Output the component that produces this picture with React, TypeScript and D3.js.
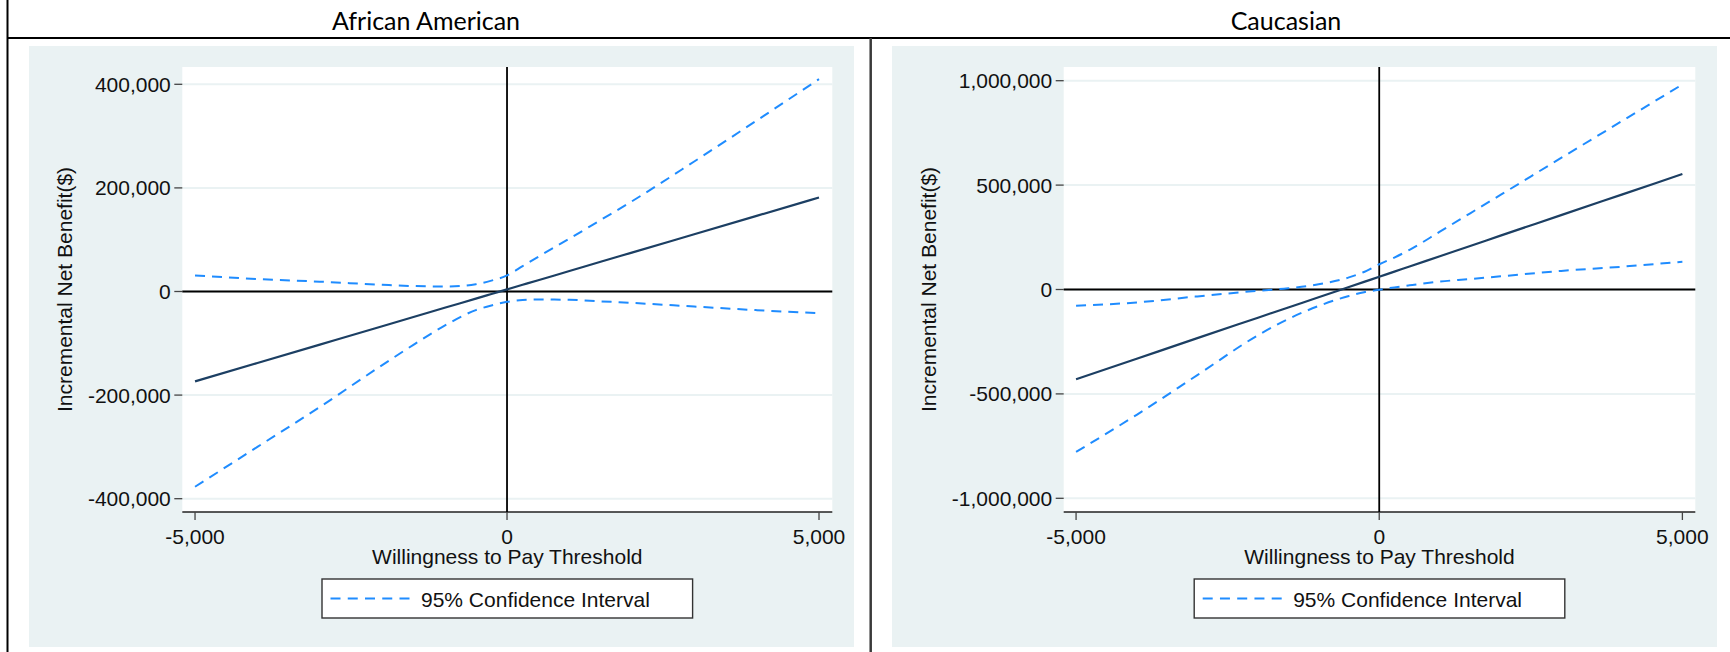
import React from "react";
import * as d3 from "d3";

// Willingness-to-pay thresholds at which the INB curves were evaluated
const wtp = [-5000, -4000, -3000, -2000, -1500, -1000, -500, -250, 0, 250, 500, 1000, 1500, 2000, 3000, 4000, 5000];

// African American: incremental net benefit and 95% CI bounds ($)
const aaPoint = [-173500, -138000, -102500, -67000, -49300, -31500, -13800, -4900, 4000, 12900, 21800, 39500, 57300, 75000, 110500, 146000, 181500];
const aaUpper = [31000, 24000, 19000, 13000, 10500, 9500, 14000, 21000, 31000, 49000, 67000, 102000, 138000, 174000, 251000, 330000, 410000];
const aaLower = [-377000, -300000, -223000, -142000, -103000, -66000, -36000, -27000, -20000, -16500, -15500, -16000, -19000, -22000, -29000, -36000, -42000];

// Caucasian: incremental net benefit and 95% CI bounds ($)
const caPoint = [-430000, -331500, -233000, -135000, -86000, -37000, 12000, 36500, 61000, 85600, 110000, 159500, 208500, 258000, 356000, 454500, 553000];
const caUpper = [-78000, -62000, -33000, -6000, 6000, 25000, 58000, 84000, 121000, 153000, 190000, 277000, 365000, 453000, 630000, 806000, 982000];
const caLower = [-778000, -600000, -410000, -219000, -141000, -79000, -31000, -13000, -1000, 10000, 20000, 38000, 50000, 63000, 89000, 109000, 133000];

// Axis ticks
const xTicks = [-5000, 0, 5000];
const aaYTicks = [-400000, -200000, 0, 200000, 400000];
const caYTicks = [-1000000, -500000, 0, 500000, 1000000];

const panelTitles = ["African American", "Caucasian"];
const xTitle = "Willingness to Pay Threshold";
const yTitle = "Incremental Net Benefit($)";
const legendLabel = "95% Confidence Interval";

const W = 1730;
const H = 652;
const BG = "#eaf2f3";
const NAVY = "#1c3f63";
const BLUE = "#1f8cff";
const AXIS_FONT = "'Liberation Sans', Arial, sans-serif";
const fmt = d3.formatLocale({ decimal: ".", thousands: ",", grouping: [3], currency: ["$", ""], minus: "-" }).format(",");

type PanelProps = {
  title: string;
  titleX: number;
  grayX0: number;
  grayX1: number;
  plotX0: number;
  plotX1: number;
  yTitleX: number;
  yDomain: [number, number];
  yTicks: number[];
  point: number[];
  upper: number[];
  lower: number[];
};

const grayY0 = 46;
const grayY1 = 647;
const plotY0 = 67;
const plotY1 = 512;

function Panel(p: PanelProps) {
  const x = d3.scaleLinear().domain([-5204, 5213]).range([p.plotX0, p.plotX1]);
  const y = d3.scaleLinear().domain(p.yDomain).range([plotY1, plotY0]);
  const mk = (vals: number[]) =>
    d3
      .line<number>()
      .x((_, i) => x(wtp[i]))
      .y((v) => y(v))
      .curve(d3.curveMonotoneX)(vals) || "";
  const cx = (p.plotX0 + p.plotX1) / 2;
  const legW = 370.6;
  const legX = cx - legW / 2;
  const labelRight = p.plotX0 - 11.5;

  return (
    <g>
      <text
        x={p.titleX}
        y={30}
        textAnchor="middle"
        fontFamily="Lato, 'Open Sans', sans-serif"
        fontSize={25}
        fill="#000"
      >
        {p.title}
      </text>
      <rect x={p.grayX0} y={grayY0} width={p.grayX1 - p.grayX0} height={grayY1 - grayY0} fill={BG} />
      <rect x={p.plotX0} y={plotY0} width={p.plotX1 - p.plotX0} height={plotY1 - plotY0} fill="#fff" />
      {/* horizontal grid */}
      {p.yTicks.map((t) => (
        <line key={"g" + t} x1={p.plotX0} x2={p.plotX1} y1={y(t)} y2={y(t)} stroke={BG} strokeWidth={2} />
      ))}
      {/* y ticks and labels */}
      {p.yTicks.map((t) => (
        <g key={"y" + t}>
          <line x1={p.plotX0 - 8} x2={p.plotX0} y1={y(t)} y2={y(t)} stroke="#444" strokeWidth={1.3} />
          <text
            x={labelRight}
            y={y(t) + 7.5}
            textAnchor="end"
            fontFamily={AXIS_FONT}
            fontSize={21}
            fill="#111"
          >
            {fmt(t)}
          </text>
        </g>
      ))}
      {/* x axis */}
      <line x1={p.plotX0} x2={p.plotX1} y1={plotY1} y2={plotY1} stroke="#222" strokeWidth={1.5} />
      {xTicks.map((t) => (
        <g key={"x" + t}>
          <line x1={x(t)} x2={x(t)} y1={plotY1} y2={plotY1 + 8} stroke="#444" strokeWidth={1.3} />
          <text x={x(t)} y={543.5} textAnchor="middle" fontFamily={AXIS_FONT} fontSize={21} fill="#111">
            {fmt(t)}
          </text>
        </g>
      ))}
      {/* reference lines at zero */}
      <line x1={p.plotX0} x2={p.plotX1} y1={y(0)} y2={y(0)} stroke="#000" strokeWidth={1.8} />
      <line x1={x(0)} x2={x(0)} y1={plotY0} y2={plotY1} stroke="#000" strokeWidth={1.8} />
      {/* series */}
      <path d={mk(p.upper)} fill="none" stroke={BLUE} strokeWidth={2} strokeDasharray="10 7" />
      <path d={mk(p.lower)} fill="none" stroke={BLUE} strokeWidth={2} strokeDasharray="10 7" />
      <path d={mk(p.point)} fill="none" stroke={NAVY} strokeWidth={2.2} />
      {/* axis titles */}
      <text x={cx} y={563.5} textAnchor="middle" fontFamily={AXIS_FONT} fontSize={21} fill="#111">
        {xTitle}
      </text>
      <text
        transform={`translate(${p.yTitleX},${(plotY0 + plotY1) / 2}) rotate(-90)`}
        textAnchor="middle"
        fontFamily={AXIS_FONT}
        fontSize={21}
        fill="#111"
      >
        {yTitle}
      </text>
      {/* legend */}
      <rect x={legX} y={579} width={legW} height={39} fill="#fff" stroke="#333" strokeWidth={1.4} />
      <line x1={legX + 8.5} x2={legX + 87.5} y1={598.5} y2={598.5} stroke={BLUE} strokeWidth={2} strokeDasharray="10 7.25" />
      <text x={legX + 99} y={606.5} fontFamily={AXIS_FONT} fontSize={21} fill="#111">
        {legendLabel}
      </text>
    </g>
  );
}

export default function App() {
  return (
    <svg
      width={W}
      height={H}
      viewBox={`0 0 ${W} ${H}`}
      style={{ position: "absolute", left: 0, top: 0, background: "#fff" }}
    >
      <rect width={W} height={H} fill="#fff" />
      <Panel
        title={panelTitles[0]}
        titleX={426}
        grayX0={29}
        grayX1={854}
        plotX0={182.3}
        plotX1={832.3}
        yTitleX={71.8}
        yDomain={[-425700, 433400]}
        yTicks={aaYTicks}
        point={aaPoint}
        upper={aaUpper}
        lower={aaLower}
      />
      <Panel
        title={panelTitles[1]}
        titleX={1286}
        grayX0={892}
        grayX1={1717}
        plotX0={1063.7}
        plotX1={1695.3}
        yTitleX={936.2}
        yDomain={[-1065600, 1065600]}
        yTicks={caYTicks}
        point={caPoint}
        upper={caUpper}
        lower={caLower}
      />
      {/* table rules */}
      <line x1={7.5} x2={W} y1={38} y2={38} stroke="#000" strokeWidth={2} />
      <line x1={7.5} x2={7.5} y1={0} y2={H} stroke="#000" strokeWidth={2} />
      <line x1={870.7} x2={870.7} y1={38} y2={H} stroke="#3a3a3a" strokeWidth={2.5} />
    </svg>
  );
}
